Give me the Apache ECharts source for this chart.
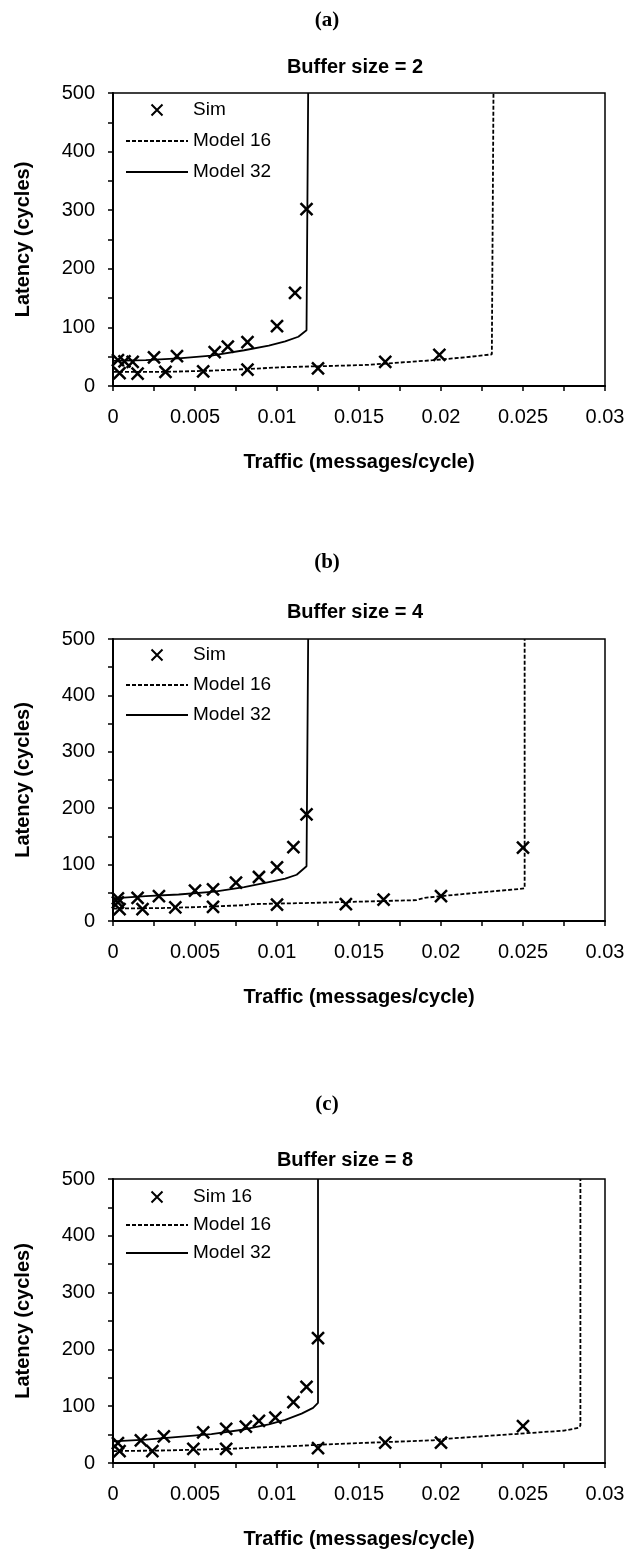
<!DOCTYPE html>
<html>
<head>
    <meta charset="utf-8">
    <script src="https://cdn.jsdelivr.net/npm/echarts@6.0.0/dist/echarts.min.js"></script>
    <style>
        body { margin: 0; background: #fff; }
        #main { width: 629px; height: 1560px; }
    </style>
</head>
<body>
<div id="main"></div>
<script type="text/javascript">
// 数据：[流量, 延迟]
// (a) Buffer size = 2
var simA = [
    [0.0003, 44], [0.0007, 42], [0.0012, 41], [0.0025, 49], [0.0039, 51], [0.0062, 58],
    [0.0070, 67], [0.0082, 75], [0.0100, 102], [0.0111, 159], [0.0118, 302],
    [0.0004, 22], [0.0015, 21], [0.0032, 24], [0.0055, 25], [0.0082, 28], [0.0125, 30],
    [0.0166, 41], [0.0199, 53]
];
var model16A = [
    [0, 24], [0.003, 24], [0.0058, 26], [0.0083, 29], [0.0102, 32], [0.013, 34], [0.0155, 36],
    [0.0175, 40], [0.0195, 44], [0.0215, 49], [0.0231, 54], [0.0232, 500]
];
var model32A = [
    [0, 43], [0.002, 44], [0.004, 47], [0.006, 52], [0.008, 61], [0.0095, 69], [0.0105, 76],
    [0.0113, 84], [0.0118, 95], [0.0119, 500]
];

// (b) Buffer size = 4
var simB = [
    [0.0003, 40], [0.0015, 41], [0.0028, 44], [0.0050, 54], [0.0061, 56], [0.0075, 68],
    [0.0089, 78], [0.0100, 95], [0.0110, 131], [0.0118, 189],
    [0.0003, 33], [0.0004, 21], [0.0018, 21], [0.0038, 24], [0.0061, 25], [0.0100, 29],
    [0.0142, 30], [0.0165, 38], [0.0200, 44], [0.0250, 130]
];
var model16B = [
    [0, 22], [0.003, 23], [0.0055, 25], [0.008, 28], [0.0085, 30], [0.012, 32], [0.0185, 37],
    [0.019, 41], [0.020, 44], [0.0225, 51], [0.0245, 56], [0.0251, 58], [0.0251, 500]
];
var model32B = [
    [0, 40], [0.002, 44], [0.004, 47], [0.0062, 52], [0.008, 60], [0.0095, 69], [0.0105, 75],
    [0.0112, 82], [0.0118, 97], [0.0119, 500]
];

// (c) Buffer size = 8
var simC = [
    [0.0003, 35], [0.0017, 40], [0.0031, 47], [0.0055, 54], [0.0069, 60], [0.0081, 64],
    [0.0089, 74], [0.0099, 80], [0.0110, 107], [0.0118, 134], [0.0125, 220],
    [0.0004, 21], [0.0024, 21], [0.0049, 25], [0.0069, 25], [0.0125, 26], [0.0166, 36],
    [0.0200, 36], [0.0250, 65]
];
var model16C = [
    [0, 21], [0.003, 22], [0.0072, 25], [0.0085, 27], [0.0105, 29], [0.0125, 32], [0.015, 35],
    [0.0195, 40], [0.0205, 43], [0.0235, 49], [0.0255, 53], [0.0275, 57], [0.0284, 62],
    [0.0285, 66], [0.0285, 500]
];
var model32C = [
    [0, 38], [0.002, 41], [0.004, 46], [0.006, 51], [0.008, 59], [0.0095, 68], [0.0105, 76],
    [0.0115, 87], [0.0122, 97], [0.0125, 106], [0.0125, 500]
];

var panelLabels = ['(a)', '(b)', '(c)'];
var panelTitles = ['Buffer size = 2', 'Buffer size = 4', 'Buffer size = 8'];
var simNames = ['Sim', 'Sim', 'Sim 16'];
var xTicks = [0, 0.005, 0.01, 0.015, 0.02, 0.025, 0.03];
var yTicks = [0, 100, 200, 300, 400, 500];

var sans = 'Liberation Sans, Arial, sans-serif';
var serif = 'Liberation Serif, Times New Roman, serif';
var xPath = 'path://M0,0L10,10M10,0L0,10';

// 每个子图的位置
var layout = [
    { gridTop: 93, gridH: 293, labelY: 10, titleY: 57, titleX: 355, legendTop: 100, legendGap: 10 },
    { gridTop: 639, gridH: 282, labelY: 552, titleY: 602, titleX: 355, legendTop: 645, legendGap: 9 },
    { gridTop: 1179, gridH: 284, labelY: 1094, titleY: 1150, titleX: 345, legendTop: 1187, legendGap: 7 }
];
var sims = [simA, simB, simC];
var m16s = [model16A, model16B, model16C];
var m32s = [model32A, model32B, model32C];

var option = {
    animation: false,
    backgroundColor: '#fff',
    title: [],
    legend: [],
    grid: [],
    xAxis: [],
    yAxis: [],
    series: []
};

for (var i = 0; i < 3; i++) {
    var L = layout[i];
    option.title.push({
        text: panelLabels[i], left: 327, top: L.labelY, textAlign: 'center', padding: 0,
        textStyle: { fontFamily: serif, fontSize: 21, fontWeight: 'bold', color: '#000' }
    });
    option.title.push({
        text: panelTitles[i], left: L.titleX, top: L.titleY, textAlign: 'center', padding: 0,
        textStyle: { fontFamily: sans, fontSize: 20, fontWeight: 'bold', color: '#000' }
    });
    // 图例：线条项不显示中间的圆点
    option.legend.push({
        orient: 'vertical', left: 125, top: L.legendTop, padding: 0,
        itemWidth: 62, itemHeight: 11, itemGap: L.legendGap + 1,
        textStyle: { fontFamily: sans, fontSize: 19, color: '#000', lineHeight: 20 },
        data: [
            { name: simNames[i], icon: xPath },
            { name: 'Model 16', itemStyle: { opacity: 0 } },
            { name: 'Model 32', itemStyle: { opacity: 0 } }
        ]
    });
    option.grid.push({
        left: 113, top: L.gridTop, width: 492, height: L.gridH,
        show: true, borderColor: '#000', borderWidth: 1.5, backgroundColor: '#fff'
    });
    option.xAxis.push({
        gridIndex: i, type: 'value', min: xTicks[0], max: xTicks[xTicks.length - 1], interval: 0.005,
        name: 'Traffic (messages/cycle)', nameLocation: 'middle', nameGap: 66,
        nameTextStyle: { fontFamily: sans, fontSize: 20, fontWeight: 'bold', color: '#000' },
        axisLine: { lineStyle: { color: '#000', width: 2 } },
        axisTick: { length: 5, lineStyle: { color: '#000', width: 1.5 } },
        minorTick: { show: true, splitNumber: 2, length: 5, lineStyle: { color: '#000', width: 1.5 } },
        splitLine: { show: false },
        axisLabel: { fontFamily: sans, fontSize: 20, color: '#000', margin: 21 }
    });
    option.yAxis.push({
        gridIndex: i, type: 'value', min: yTicks[0], max: yTicks[yTicks.length - 1], interval: 100,
        name: 'Latency (cycles)', nameLocation: 'middle', nameGap: 80,
        nameTextStyle: { fontFamily: sans, fontSize: 20, fontWeight: 'bold', color: '#000' },
        axisLine: { show: true, lineStyle: { color: '#000', width: 2 } },
        axisTick: { show: true, length: 5, lineStyle: { color: '#000', width: 1.5 } },
        minorTick: { show: true, splitNumber: 2, length: 5, lineStyle: { color: '#000', width: 1.5 } },
        splitLine: { show: false },
        axisLabel: { fontFamily: sans, fontSize: 20, color: '#000', margin: 18 }
    });
    option.series.push({
        name: 'Model 16', type: 'line', xAxisIndex: i, yAxisIndex: i, data: m16s[i],
        symbol: 'none', itemStyle: { color: '#000' },
        lineStyle: { color: '#000', width: 1.8, type: [4, 2] }
    });
    option.series.push({
        name: 'Model 32', type: 'line', xAxisIndex: i, yAxisIndex: i, data: m32s[i],
        symbol: 'none', itemStyle: { color: '#000' },
        lineStyle: { color: '#000', width: 1.8 }
    });
    option.series.push({
        name: simNames[i], type: 'scatter', xAxisIndex: i, yAxisIndex: i, data: sims[i],
        symbol: xPath, symbolSize: 12, symbolKeepAspect: true, z: 3,
        itemStyle: { color: 'rgba(0,0,0,0)', borderColor: '#000', borderWidth: 2.5, opacity: 1 }
    });
}

var myChart = echarts.init(document.getElementById('main'));
myChart.setOption(option);
</script>
</body>
</html>
